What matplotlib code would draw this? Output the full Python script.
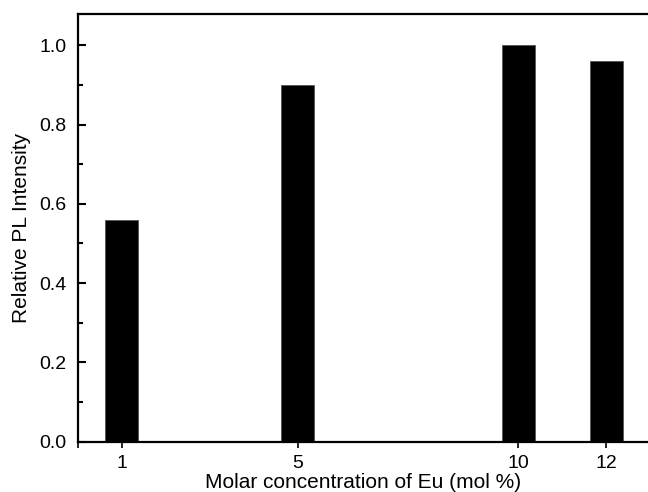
import matplotlib
matplotlib.use("Agg")
import matplotlib.pyplot as plt
from matplotlib.ticker import MultipleLocator

plt.rcParams["font.family"] = ["Liberation Sans", "DejaVu Sans"]

# Data: Eu concentration (mol %) vs relative PL intensity
conc = [1, 5, 10, 12]
intensity = [0.56, 0.90, 1.00, 0.96]
xtick_pos = [0, 1, 5, 10, 12]
xtick_labels = ["", "1", "5", "10", "12"]

fig = plt.figure(figsize=(6.48, 4.92), dpi=100)
ax = fig.add_axes([77.5 / 648, 50.3 / 492, 1 - 77.5 / 648, (441.7 - 13.5) / 492])

ax.bar(conc, intensity, width=0.75, color="black", edgecolor="#555555", linewidth=0.6)

ax.set_xlim(0, 12.95)
ax.set_ylim(0, 1.08)

ax.set_xticks(xtick_pos)
ax.set_xticklabels(xtick_labels)
ax.yaxis.set_major_locator(MultipleLocator(0.2))
ax.yaxis.set_minor_locator(MultipleLocator(0.1))
ax.yaxis.set_major_formatter(plt.FormatStrFormatter("%.1f"))

ax.tick_params(axis="y", which="major", direction="in", length=6, width=1.5, labelsize=14, pad=8)
ax.tick_params(axis="y", which="minor", direction="in", length=3.5, width=1.5)
ax.tick_params(axis="x", which="major", direction="out", length=4.5, width=1.2, labelsize=14, pad=5)

for s in ["left", "bottom", "top"]:
    ax.spines[s].set_linewidth(1.6)
ax.spines["right"].set_visible(False)

ax.set_xlabel("Molar concentration of Eu (mol %)", fontsize=15, labelpad=1)
ax.set_ylabel("Relative PL Intensity", fontsize=15, labelpad=6)

fig.savefig("out.png", dpi=100)
